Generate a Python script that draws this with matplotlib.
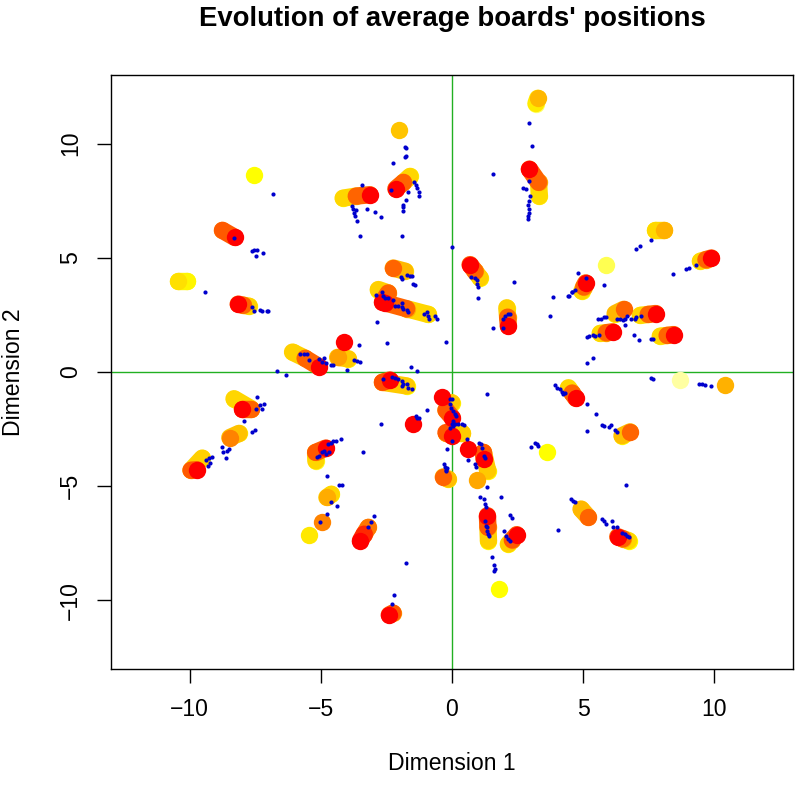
import matplotlib
matplotlib.use("Agg")
import matplotlib.pyplot as plt
from matplotlib.colors import LinearSegmentedColormap

plt.rcParams["font.family"] = ["Liberation Sans", "DejaVu Sans"]

# board trails: positions in time order, with a time level (0 = early / pale, 1 = late / red)
trail_x = [
    [-8.75, -8.28], [-7.54], [-10.10, -10.43], [-7.74, -7.95, -8.15],
    [-6.08, -5.60, -5.07], [-4.11], [-3.95, -4.36],
    [-2.01], [-1.60, -1.85, -2.14], [-4.15, -3.65, -3.13], [-1.79, -2.24],
    [-2.81, -2.43, -2.65], [-0.90, -1.73, -2.56], [3.33, 3.30, 2.95],
    [3.20, 3.27], [1.07, 0.88, 0.69], [2.09, 2.12, 2.15],
    [7.75, 8.07], [9.47, 9.68, 9.89], [5.87], [4.95, 5.02, 5.10],
    [6.22, 6.54], [7.18, 7.48, 7.77], [5.65, 5.88, 6.12], [7.94, 8.20, 8.45],
    [-8.31, -7.67, -7.99], [-8.12, -8.47], [-9.52, -9.95, -9.73],
    [-5.19, -5.20, -4.81], [-4.60, -4.77], [-4.94], [-5.45],
    [-1.73, -2.65, -2.37], [-0.39], [-0.01, -0.23, 0.01], [0.37, -0.23, -0.01],
    [-1.50], [-0.14, -0.33], [0.62], [1.36, 1.20, 1.22], [0.94],
    [1.39, 1.37, 1.35], [2.15, 2.30, 2.47], [1.79], [-3.19, -3.35, -3.49],
    [-2.25, -2.39], [3.64],
    [4.44, 4.58, 4.72], [6.48, 6.79], [8.70], [10.39], [4.92, 5.20],
    [6.73, 6.52, 6.32],
]
trail_y = [
    [6.20, 5.89], [8.63], [4.00, 4.00], [2.88, 2.92, 2.97],
    [0.87, 0.60, 0.23], [1.31], [0.58, 0.64],
    [10.60], [8.56, 8.30, 8.02], [7.61, 7.70, 7.76], [4.41, 4.55],
    [3.61, 3.46, 3.06], [2.52, 2.77, 3.03], [7.69, 8.30, 8.88],
    [11.75, 11.98], [4.12, 4.40, 4.70], [2.81, 2.40, 2.01],
    [6.20, 6.20], [4.85, 4.92, 4.99], [4.67], [3.54, 3.72, 3.90],
    [2.56, 2.74], [2.48, 2.52, 2.56], [1.69, 1.72, 1.76], [1.57, 1.60, 1.64],
    [-1.17, -1.60, -1.60], [-2.69, -2.87], [-3.77, -4.30, -4.28],
    [-3.89, -3.52, -3.33], [-5.35, -5.49], [-6.58], [-7.13],
    [-0.61, -0.45, -0.35], [-1.09], [-1.34, -1.67, -2.00], [-2.65, -2.65, -2.79],
    [-2.29], [-4.69, -4.59], [-3.35], [-4.32, -3.52, -3.81], [-4.73],
    [-7.38, -6.80, -6.29], [-7.53, -7.35, -7.12], [-9.52], [-6.80, -7.10, -7.38],
    [-10.55, -10.63], [-3.52],
    [-0.69, -0.92, -1.15], [-2.79, -2.62], [-0.36], [-0.57], [-6.00, -6.36],
    [-7.38, -7.30, -7.21],
]
trail_level = [
    [0.65, 1.0], [0.25], [0.2, 0.38], [0.3, 0.6, 1.0],
    [0.3, 0.6, 1.0], [1.0], [0.3, 0.65],
    [0.5], [0.25, 0.6, 1.0], [0.25, 0.6, 1.0], [0.3, 0.8],
    [0.3, 0.6, 1.0], [0.25, 0.6, 1.0], [0.2, 0.6, 1.0],
    [0.12, 0.55], [0.3, 0.6, 1.0], [0.3, 0.6, 1.0],
    [0.25, 0.58], [0.25, 0.6, 1.0], [0.15], [0.25, 0.6, 1.0],
    [0.3, 0.8], [0.25, 0.6, 1.0], [0.25, 0.6, 1.0], [0.25, 0.6, 1.0],
    [0.25, 0.6, 1.0], [0.3, 0.72], [0.25, 0.65, 1.0],
    [0.2, 0.65, 1.0], [0.25, 0.6], [0.72], [0.35],
    [0.25, 0.7, 1.0], [1.0], [0.3, 0.65, 1.0], [0.3, 0.65, 1.0],
    [1.0], [0.25, 0.8], [1.0], [0.3, 0.65, 1.0], [0.62],
    [0.25, 0.65, 1.0], [0.25, 0.65, 1.0], [0.25], [0.65, 0.85, 1.0],
    [0.65, 1.0], [0.25],
    [0.25, 0.6, 1.0], [0.25, 0.8], [0.05], [0.58], [0.3, 0.8],
    [0.25, 0.6, 1.0],
]

# individual positions (blue dots)
dot_x = [
    -6.83, -8.32, -7.61, -7.55, -7.42, -7.47, -7.19, -9.42,
    -7.61, -7.55, -7.32, -7.26, -7.07, -7.01,
    -5.79, -5.64, -5.51, -5.47, -5.06, -4.94, -4.87, -4.81, -4.62, -4.52, -6.68, -6.31,
    -1.79, -1.77, -1.77, -1.79, -2.24,
    -1.45, -1.37, -1.32, -1.27, -1.27, -1.67, -1.76, -1.86, -1.88, -1.88, -2.34, -1.92,
    -3.45, -3.83, -3.77, -3.74, -3.70, -3.61, -3.66, -3.23, -2.94, -2.72, -3.51,
    0.00,
    -1.96, -1.92, -1.73, -1.60, -1.54, -1.48, -1.41,
    -2.90, -2.68, -2.62, -2.56, -2.43, -2.24, -2.18, -2.05, -1.92, -1.86, -1.73, -1.67,
    -1.92, -1.07, -0.94, -0.90, -0.87, -0.65, -0.58, -2.85, -2.47, -3.56,
    -0.24, -3.74, -3.64, -3.49, -4.00, -1.58, -1.32,
    2.94, 3.04, 1.55,
    2.95, 2.72, 2.81, 2.98, 2.95, 2.91, 2.95, 2.93, 2.90, 2.89,
    0.73, 0.88, 0.94, 0.97, 0.99, 0.98, 2.37,
    1.96, 2.02, 2.15, 2.21, 1.94, 1.58,
    3.84, 3.74, 4.44, 4.57,
    7.58, 7.18, 7.02, 9.31, 9.02, 8.92, 8.41,
    4.82, 5.11, 5.81, 4.69, 4.57, 4.47,
    5.58, 5.69, 5.81, 5.88, 6.29, 6.41, 6.50, 6.58, 6.67, 6.83, 7.01, 6.99, 7.21, 6.60,
    5.14, 5.23, 5.37, 5.46, 5.62, 6.92, 7.14, 7.60, 7.68, 5.36, 5.14,
    -7.45, -7.33, -7.16, -7.23, -7.48, -7.93, -7.61, -7.52,
    -8.78, -8.73, -8.59, -8.50, -8.63,
    -9.39, -9.26, -9.16, -9.24, -9.29,
    -5.16, -5.06, -4.94, -4.87, -4.81, -4.68, -4.74, -4.62, -4.52, -4.43, -4.24,
    -4.78, -4.30, -4.21,
    -5.04, -4.77, -4.62, -4.39,
    -2.62, -2.30, -2.18, -2.05, -1.92, -1.86, -1.73, -1.67, -1.54, -1.92,
    -0.08, -0.01, -0.08, -0.04, 0.05, 0.11, 0.15, 0.05, -0.01, 0.11, 0.24, 0.37,
    0.46, -0.08, 0.03, -0.01, -0.18,
    -1.37, -1.32, -1.26, -0.94, -2.72, -3.39,
    -0.31, -0.27, -0.24, -0.23, -0.20,
    0.56, 0.62, 1.04, 1.10, 1.13, 1.22, 1.26, 0.88, 0.90, 1.32, 1.07, 1.22, 1.26,
    1.30, 1.87, 1.32,
    1.26, 1.29, 1.32, 1.35, 1.39, 1.41,
    2.21, 2.28, 1.98, 2.05, 2.15, 2.21,
    1.52, 1.61, 1.64, 1.60,
    -3.19, -3.07, -2.97, -1.76, -2.30, -2.20,
    3.00, 3.17, 3.23, 3.29, 4.06,
    3.93, 4.00, 4.12, 4.19, 4.25,
    4.31, 5.14, 5.48, 5.16, 5.71, 5.81, 5.97, 6.07, 6.22, 6.29,
    7.60, 7.65, 9.40, 9.53, 9.66, 9.87, 6.63,
    4.54, 4.63, 4.69,
    5.71, 5.81, 5.87, 6.10, 6.12, 6.29, 6.48, 6.58, 6.67, 6.73,
]
dot_y = [
    7.80, 5.88, 5.28, 5.34, 5.36, 5.07, 5.20, 3.51,
    2.85, 2.66, 2.73, 2.66, 2.69, 2.69,
    0.77, 0.77, 0.80, 0.52, 0.55, 0.44, 0.61, 0.38, 0.29, 0.29, 0.04, -0.13,
    9.87, 9.80, 9.46, 9.39, 9.14,
    8.30, 8.20, 8.05, 7.90, 7.69, 7.90, 7.51, 7.32, 7.21, 7.03, 7.98, 5.97,
    8.17, 7.25, 7.13, 6.96, 6.81, 6.59, 7.10, 7.15, 6.99, 6.78, 5.97,
    5.46,
    4.15, 4.05, 4.24, 4.22, 4.19, 3.83, 3.79,
    3.39, 3.49, 3.32, 3.24, 3.24, 3.14, 2.88, 2.88, 2.84, 2.74, 2.70, 2.62,
    3.04, 2.52, 2.62, 2.45, 2.34, 2.45, 2.33, 2.20, 1.28, 1.19,
    1.32, 0.52, 0.48, 0.44, 0.09, 0.23, 0.03,
    10.89, 9.90, 8.66,
    8.34, 8.05, 8.02, 7.69, 7.47, 7.32, 7.13, 6.96, 6.81, 6.69,
    4.16, 4.12, 4.02, 3.83, 3.71, 3.24, 3.93,
    2.30, 2.45, 2.52, 2.56, 1.93, 1.93,
    3.29, 2.45, 3.32, 3.49,
    5.78, 5.50, 5.39, 4.69, 4.55, 4.51, 4.27,
    4.34, 4.12, 3.79, 3.61, 3.49, 3.32,
    2.30, 2.33, 2.41, 2.40, 2.30, 2.33, 2.26, 2.34, 2.45, 2.30, 2.41, 2.30, 2.47, 2.04,
    1.54, 1.57, 1.60, 1.57, 1.61, 1.60, 1.40, 1.43, 1.45, 0.62, 0.41,
    -1.09, -1.46, -1.41, -1.60, -1.63, -2.14, -2.61, -2.53,
    -3.30, -3.49, -3.45, -3.38, -3.77,
    -3.86, -3.77, -3.74, -4.00, -4.10,
    -3.71, -3.67, -3.52, -3.45, -3.57, -3.52, -3.16, -3.09, -3.04, -3.01, -2.94,
    -4.54, -4.95, -4.93,
    -6.55, -6.21, -5.71, -5.87,
    -0.32, -0.22, -0.28, -0.32, -0.39, -0.54, -0.51, -0.69, -0.76, -0.61,
    -1.19, -1.16, -1.41, -1.56, -1.70, -1.85, -1.92, -2.14, -2.28, -2.28, -2.26, -2.28,
    -2.31, -2.43, -2.36, -3.01, -3.37,
    -1.92, -2.02, -2.00, -1.67, -2.28, -3.48,
    -4.03, -4.18, -4.29, -4.35, -4.21,
    -2.94, -3.86, -3.09, -3.16, -3.31, -3.67, -3.77, -4.03, -4.18, -5.02, -5.46, -5.58, -5.78,
    -5.93, -5.49, -0.98,
    -6.51, -6.72, -6.80, -6.94, -7.09, -7.19,
    -6.24, -6.39, -6.94, -7.16, -7.31, -7.38,
    -8.08, -8.44, -8.62, -8.69,
    -6.77, -6.58, -6.32, -8.37, -10.17, -9.78,
    -3.30, -3.09, -3.16, -3.23, -6.91,
    -0.57, -0.69, -0.76, -0.86, -0.98,
    -0.90, -1.41, -1.82, -2.58, -2.31, -2.36, -2.40, -2.33, -2.55, -2.61,
    -0.28, -0.32, -0.51, -0.54, -0.57, -0.60, -4.95,
    -5.56, -5.63, -5.68,
    -6.43, -6.54, -6.65, -6.54, -6.77, -6.80, -7.04, -7.09, -7.16, -7.24,
]

x_ticks = [-10, -5, 0, 5, 10]
y_ticks = [-10, -5, 0, 5, 10]

heat = LinearSegmentedColormap.from_list(
    "heat_rev",
    [(0.0, "#ffffc8"), (0.25, "#ffff00"), (0.45, "#ffd000"),
     (0.65, "#ffa000"), (0.85, "#ff5000"), (1.0, "#ff0000")],
)

W, H = 796, 786
fig = plt.figure(figsize=(W / 100, H / 100), dpi=100)
ax = fig.add_axes([111 / W, 1 - 669 / H, 682 / W, 594 / H])

ax.axhline(0, color="#22b022", lw=1.0, zorder=1)
ax.axvline(0, color="#22b022", lw=1.0, zorder=1)

dot_size = 12.5  # marker diameter in points
for xs, ys, lv in zip(trail_x, trail_y, trail_level):
    for i in range(1, len(xs)):
        seg_lv = (lv[i - 1] + lv[i]) / 2
        ax.plot(xs[i - 1:i + 1], ys[i - 1:i + 1], color=heat(seg_lv),
                lw=dot_size, solid_capstyle="round", zorder=2 + seg_lv)
    for x, y, l in zip(xs, ys, lv):
        ax.scatter([x], [y], s=dot_size ** 2, color=heat(l), linewidths=0,
                   zorder=2 + l)

ax.scatter(dot_x, dot_y, s=9, color="#0000cd", linewidths=0, zorder=5)

ax.set_xlim(-13, 13)
ax.set_ylim(-13, 13)
ax.set_xticks(x_ticks)
ax.set_yticks(y_ticks)
ax.tick_params(direction="out", length=10, width=1.0, labelsize=16.6, pad=11)
for lab in ax.get_yticklabels():
    lab.set_rotation(90)
    lab.set_va("center")
for sp in ax.spines.values():
    sp.set_linewidth(1.0)

ax.set_xlabel("Dimension 1", fontsize=16.6)
ax.set_ylabel("Dimension 2", fontsize=16.6)
ax.xaxis.set_label_coords(0.5, (669 - 764) / 594)
ax.xaxis.label.set_va("center")
ax.yaxis.set_label_coords((14 - 111) / 682, 0.5)
ax.yaxis.label.set_va("center")

fig.text(452 / W, 1 - 26 / H, "Evolution of average boards' positions",
         ha="center", va="baseline", fontsize=19.8, fontweight="bold")

fig.savefig("out.png", dpi=100)
